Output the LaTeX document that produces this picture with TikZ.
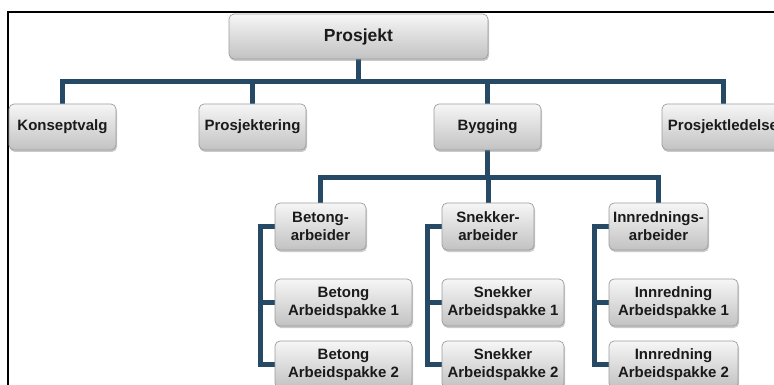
\documentclass[tikz,border=0pt]{standalone}
\usepackage{fontspec}
\setmainfont{Liberation Sans}
\usetikzlibrary{shadows,backgrounds}
\definecolor{linec}{HTML}{264A66}
\definecolor{boxtop}{HTML}{F6F6F6}
\definecolor{boxbot}{HTML}{C2C2C2}
\definecolor{boxborder}{HTML}{9C9C9C}
\definecolor{txt}{HTML}{1A1A1A}
\begin{document}
\begin{tikzpicture}[x=1pt,y=-1pt,
  box/.style={draw=boxborder, line width=0.7pt, rounded corners=5pt,
    top color=boxtop, bottom color=boxbot,
    drop shadow={shadow xshift=1pt, shadow yshift=-2pt, opacity=0.35, fill=black!60},
    font=\bfseries\fontsize{15}{18}\selectfont, text=txt, inner sep=0pt, align=center,
    minimum height=46pt},
  conn/.style={draw=linec, line width=5pt, line join=miter}]
\useasboundingbox (0,0) rectangle (774,385);
% frame
\draw[line width=2pt] (7.5,386) -- (7.5,12.5) -- (775,12.5);
% nodes
\node[box, minimum width=259pt, minimum height=45pt, font=\bfseries\fontsize{17.5}{20}\selectfont] (prosjekt) at (358.5,36.5) {Prosjekt};
\node[box, minimum width=107pt] (konsept) at (62.5,127) {Konseptvalg};
\node[box, minimum width=107pt] (prosjektering) at (252.5,127) {Prosjektering};
\node[box, minimum width=107pt] (bygging) at (487.5,127) {Bygging};
\node[box, minimum width=122pt] (ledelse) at (723,127) {Prosjektledelse};
\node[box, minimum width=91pt, minimum height=47pt] (betongarb) at (320.5,226.5) {Betong-\\arbeider};
\node[box, minimum width=92pt, minimum height=47pt] (snekkerarb) at (488,226.5) {Snekker-\\arbeider};
\node[box, minimum width=99pt, minimum height=47pt] (innrarb) at (658.5,226.5) {Innrednings-\\arbeider};
\node[box, minimum width=137pt, minimum height=47pt] (betong1) at (343.5,302.5) {Betong\\Arbeidspakke 1};
\node[box, minimum width=137pt, minimum height=47pt] (betong2) at (343.5,364.5) {Betong\\Arbeidspakke 2};
\node[box, minimum width=122pt, minimum height=47pt] (snekker1) at (503,302.5) {Snekker\\Arbeidspakke 1};
\node[box, minimum width=122pt, minimum height=47pt] (snekker2) at (503,364.5) {Snekker\\Arbeidspakke 2};
\node[box, minimum width=129pt, minimum height=47pt] (innr1) at (673.5,302.5) {Innredning\\Arbeidspakke 1};
\node[box, minimum width=129pt, minimum height=47pt] (innr2) at (673.5,364.5) {Innredning\\Arbeidspakke 2};
\coordinate (busa) at (0,82);
\coordinate (busb) at (0,178);
\begin{scope}[on background layer]
\draw[conn] (konsept.north) -- (konsept.north |- busa) -- (ledelse.north |- busa) -- (ledelse.north);
\draw[conn] (prosjekt.south) -- (prosjekt.south |- busa);
\draw[conn] (prosjektering.north) -- (prosjektering.north |- busa);
\draw[conn] (bygging.north) -- (bygging.north |- busa);
\draw[conn] (betongarb.north) -- (betongarb.north |- busb) -- (innrarb.north |- busb) -- (innrarb.north);
\draw[conn] (bygging.south) -- (bygging.south |- busb);
\draw[conn] (snekkerarb.north) -- (snekkerarb.north |- busb);
\draw[conn] (betongarb.west) -- ++(-14,0) |- (betong2.west);
\draw[conn] (betong1.west) -- ++(-14,0);
\draw[conn] (snekkerarb.west) -- ++(-14.5,0) |- (snekker2.west);
\draw[conn] (snekker1.west) -- ++(-14.5,0);
\draw[conn] (innrarb.west) -- ++(-14,0) |- (innr2.west);
\draw[conn] (innr1.west) -- ++(-14,0);
\end{scope}
\end{tikzpicture}
\end{document}
